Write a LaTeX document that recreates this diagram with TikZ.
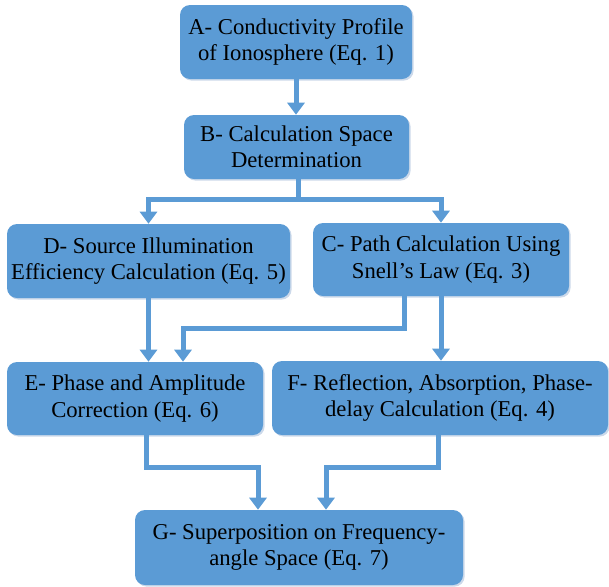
\documentclass[tikz,border=0pt]{standalone}
\usepackage{fontspec}
\setmainfont{Liberation Serif}
\usetikzlibrary{arrows.meta,shadows}
\definecolor{boxblue}{HTML}{5B9BD5}
\definecolor{shade}{HTML}{CCD9EA}
\begin{document}
\begin{tikzpicture}[x=0.75pt,y=-0.75pt,
  box/.style={draw=none, fill=boxblue, rounded corners=7.5pt, align=center, inner sep=0pt,
    font=\fontsize{17}{19.8}\selectfont, text=black,
    drop shadow={shadow xshift=1.2pt, shadow yshift=-1.2pt, fill=shade, opacity=1}},
  conn/.style={draw=boxblue, line width=3.75pt, -{Triangle[width=12.75pt,length=9pt]}},
  plain/.style={draw=boxblue, line width=3.75pt}]
\useasboundingbox (0,0) rectangle (609,586);

\node[box, minimum width=174pt, minimum height=55.5pt] (A) at (296,42)
  {A- Conductivity Profile\\of Ionosphere (Eq. 1)};
\node[box, minimum width=168.75pt, minimum height=48pt] (B) at (296.5,147)
  {B- Calculation Space\\Determination};
\node[box, minimum width=212.25pt, minimum height=55.5pt] (D) at (148.5,261)
  {D- Source Illumination\\Efficiency Calculation (Eq. 5)};
\node[box, minimum width=192pt, minimum height=54.75pt] (C) at (441,259.5)
  {C- Path Calculation Using\\Snell’s Law (Eq. 3)};
\node[box, minimum width=192pt, minimum height=54.75pt] (E) at (135,398.5)
  {E- Phase and Amplitude\\Correction (Eq. 6)};
\node[box, minimum width=252pt, minimum height=55.5pt] (F) at (440,398)
  {F- Reflection, Absorption, Phase-\\delay Calculation (Eq. 4)};
\node[box, minimum width=246pt, minimum height=56.25pt] (G) at (299,547.5)
  {G- Superposition on Frequency-\\angle Space (Eq. 7)};

\coordinate (bj) at (298,199);
\coordinate (ce1) at (404,328);
\coordinate (ce2) at (183,328);
\coordinate (eg1) at (146,467);
\coordinate (eg2) at (258,467);
\coordinate (fg1) at (438,467);
\coordinate (fg2) at (326,467);

\draw[conn] (A.south) -- (A.south |- B.north);
\draw[plain] (B.south -| bj) -- (bj);
\draw[conn] (bj) -| (D.north);
\draw[conn] (bj) -| (C.north);
\draw[conn] (D.south) -- (D.south |- E.north);
\draw[conn] (C.south -| ce1) -- (ce1) -- (ce2) -- (ce2 |- E.north);
\draw[conn] (C.south) -- (C.south |- F.north);
\draw[conn] (E.south -| eg1) -- (eg1) -- (eg2) -- (eg2 |- G.north);
\draw[conn] (F.south -| fg1) -- (fg1) -- (fg2) -- (fg2 |- G.north);
\end{tikzpicture}
\end{document}
